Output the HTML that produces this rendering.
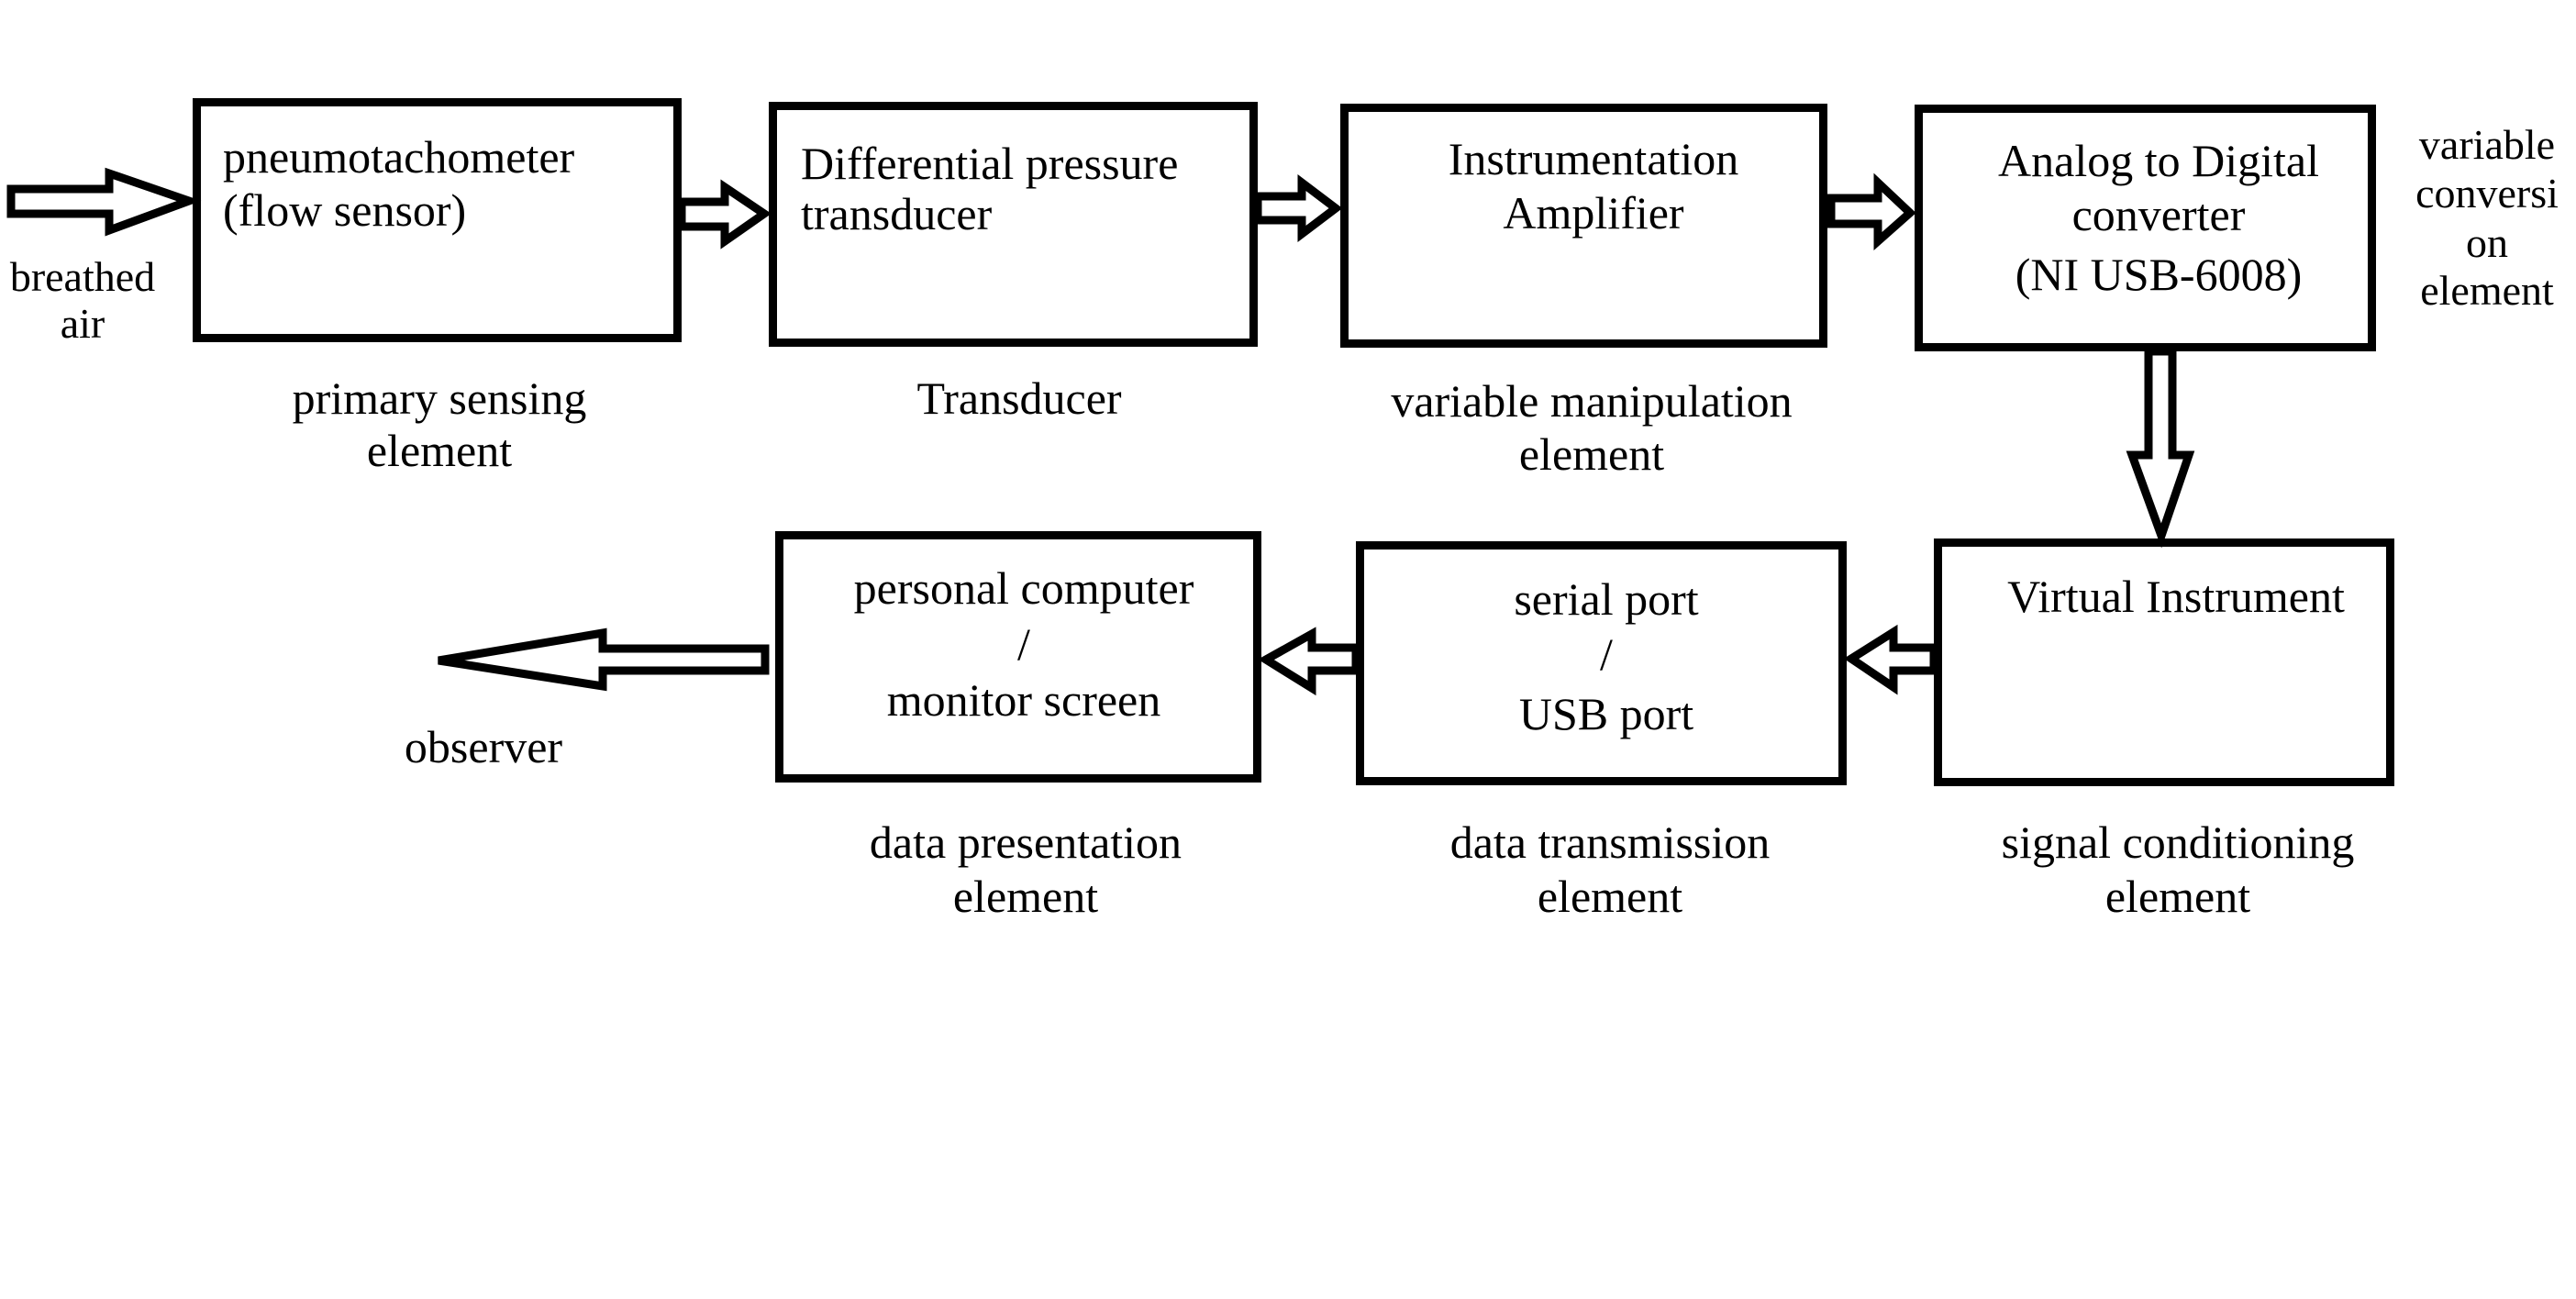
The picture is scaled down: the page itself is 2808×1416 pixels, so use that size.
<!DOCTYPE html>
<html><head><meta charset="utf-8"><style>
html,body{margin:0;padding:0;background:#fff;}
svg{display:block;}
text{font-family:"Liberation Serif","DejaVu Serif",serif;fill:#000;}
.m{font-size:50px;}
.s{font-size:46px;}
</style></head><body>
<svg width="2808" height="1416" viewBox="0 0 2808 1416" xmlns="http://www.w3.org/2000/svg">
<g fill="#fff" stroke="#000" stroke-width="9">
  <rect x="214.5" y="111.5" width="524" height="257"/>
  <rect x="842.5" y="115.5" width="524" height="258"/>
  <rect x="1465.5" y="117.5" width="522" height="257"/>
  <rect x="2091.5" y="118.5" width="494" height="260"/>
  <rect x="2112.5" y="591.5" width="493" height="261"/>
  <rect x="1482.5" y="594.5" width="526" height="257"/>
  <rect x="849.5" y="583.5" width="521" height="265"/>
</g>
<g fill="#fff" stroke="#000" stroke-width="9" stroke-linejoin="miter">
  <polygon points="12,206 119,206 119,189 206,219 119,251 119,233 12,233"/>
  <polygon points="743,220 790,220 790,204 833,233 790,263 790,247 743,247"/>
  <polygon points="1371,214 1419,214 1419,199 1456,227 1419,255 1419,240 1371,240"/>
  <polygon points="1996,216 2047,216 2047,199 2082,232 2047,263 2047,244 1996,244"/>
  <polygon points="2342,383 2368,383 2368,496 2386,496 2356,584 2324,496 2342,496"/>
  <polygon points="2108,706 2064,706 2064,689 2018,718 2064,749 2064,731 2108,731"/>
  <polygon points="1478,706 1430,706 1430,691 1380,719 1430,750 1430,731 1478,731"/>
  <polygon points="834,707 657,707 657,690 478,720 657,748 657,731 834,731"/>
</g>
<g font-family="'Liberation Serif','DejaVu Serif',serif">
<text class="m" x="243" y="188">pneumotachometer</text>
<text class="m" x="243" y="246">(flow sensor)</text>
<text class="m" x="873" y="195">Differential pressure</text>
<text class="m" x="873" y="250">transducer</text>
<text class="m" x="1737" y="190" text-anchor="middle">Instrumentation</text>
<text class="m" x="1737" y="249" text-anchor="middle">Amplifier</text>
<text class="m" x="2353" y="192" text-anchor="middle">Analog to Digital</text>
<text class="m" x="2353" y="251" text-anchor="middle">converter</text>
<text class="m" x="2353" y="316" text-anchor="middle">(NI USB-6008)</text>
<text class="s" x="2711" y="173" text-anchor="middle">variable</text>
<text class="s" x="2711" y="226" text-anchor="middle">conversi</text>
<text class="s" x="2711" y="280" text-anchor="middle">on</text>
<text class="s" x="2711" y="332" text-anchor="middle">element</text>
<text class="s" x="90" y="317" text-anchor="middle">breathed</text>
<text class="s" x="90" y="368" text-anchor="middle">air</text>
<text class="m" x="479" y="451" text-anchor="middle">primary sensing</text>
<text class="m" x="479" y="508" text-anchor="middle">element</text>
<text class="m" x="1111" y="451" text-anchor="middle">Transducer</text>
<text class="m" x="1735" y="454" text-anchor="middle">variable manipulation</text>
<text class="m" x="1735" y="512" text-anchor="middle">element</text>
<text class="m" x="1116" y="658" text-anchor="middle">personal computer</text>
<text class="m" x="1116" y="719" text-anchor="middle">/</text>
<text class="m" x="1116" y="780" text-anchor="middle">monitor screen</text>
<text class="m" x="1751" y="670" text-anchor="middle">serial port</text>
<text class="m" x="1751" y="730" text-anchor="middle">/</text>
<text class="m" x="1751" y="795" text-anchor="middle">USB port</text>
<text class="m" x="2372" y="667" text-anchor="middle">Virtual Instrument</text>
<text class="m" x="527" y="831" text-anchor="middle">observer</text>
<text class="m" x="1118" y="935" text-anchor="middle">data presentation</text>
<text class="m" x="1118" y="994" text-anchor="middle">element</text>
<text class="m" x="1755" y="935" text-anchor="middle">data transmission</text>
<text class="m" x="1755" y="994" text-anchor="middle">element</text>
<text class="m" x="2374" y="935" text-anchor="middle">signal conditioning</text>
<text class="m" x="2374" y="994" text-anchor="middle">element</text>
</g>
</svg>
</body></html>
